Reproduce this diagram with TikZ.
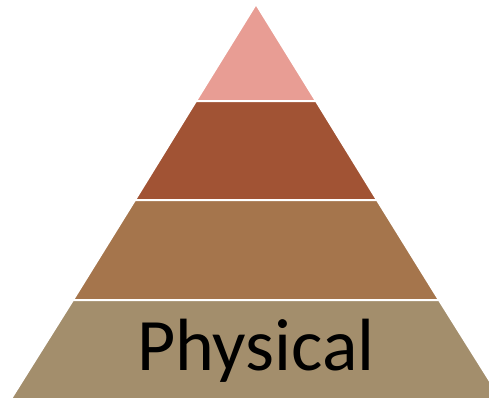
\documentclass[tikz,border=0pt]{standalone}
\usepackage{fontspec}
\setmainfont{Carlito}
\usepackage{tikz}
\usetikzlibrary{positioning, calc}

\definecolor{livelloA}{RGB}{232,157,148}
\definecolor{livelloB}{RGB}{161,83,52}
\definecolor{livelloC}{RGB}{165,117,76}
\definecolor{livelloD}{RGB}{163,142,108}

\begin{document}
\begin{tikzpicture}[
			x=1pt, y=-1pt,
			strato/.style={draw=white, line width=2pt},
			etichetta/.style={font=\fontsize{74}{82}\selectfont, text=black, inner sep=0pt}
			]
			\useasboundingbox (0,0) rectangle (489,397);
			\clip (0,0) rectangle (489,397);
			% Primo livello (cima)
			\filldraw[strato, fill=livelloA] (256,4) -- (316,101) -- (196,101) -- cycle;
			% Secondo livello
			\filldraw[strato, fill=livelloB] (196,101) -- (316,101) -- (377,200) -- (135,200) -- cycle;
			% Terzo livello
			\filldraw[strato, fill=livelloC] (135,200) -- (377,200) -- (439,300) -- (73,300) -- cycle;
			% Quarto livello (base)
			\filldraw[strato, fill=livelloD] (73,300) -- (439,300) -- (503,402) -- (9,402) -- cycle;
			\node[etichetta, anchor=base] (fisico) at (256,370) {Physical};
		\end{tikzpicture}
\end{document}
